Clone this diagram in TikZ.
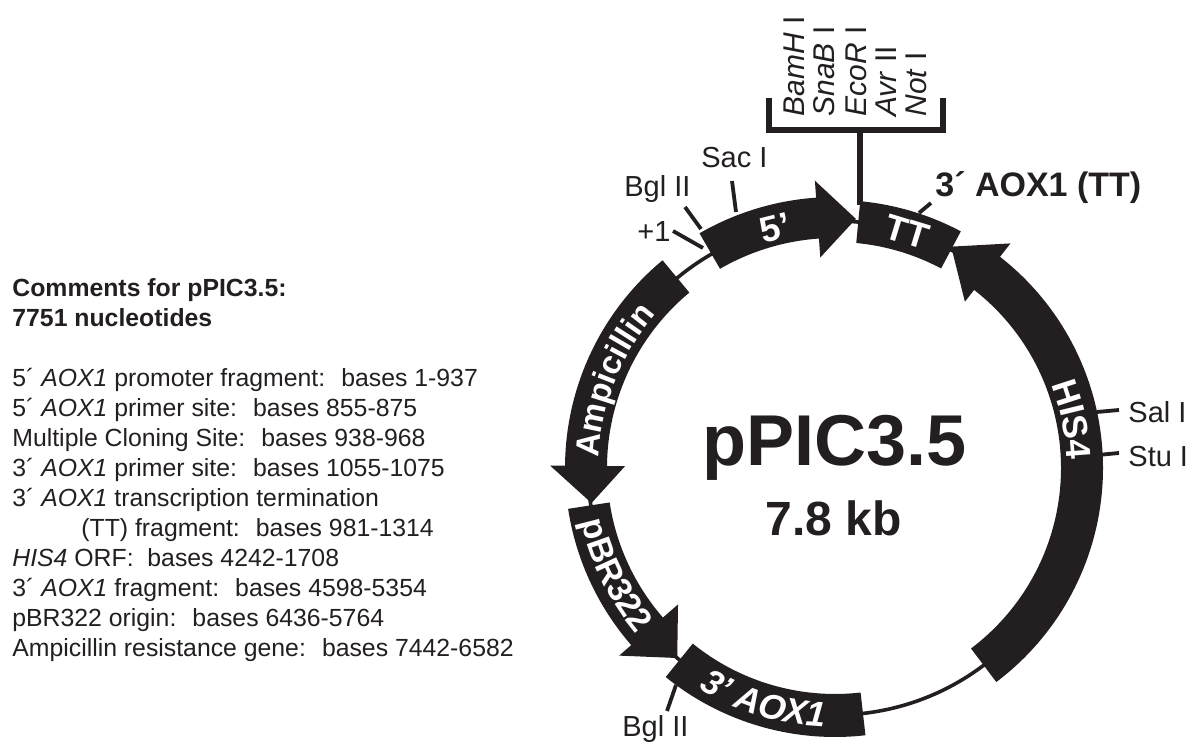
\documentclass[tikz,border=0pt]{standalone}
\usepackage{fontspec}
\usepackage{xcolor}
\usepackage{tikz}
\usetikzlibrary{decorations.text}
\setmainfont{Liberation Sans}
\definecolor{inkdark}{HTML}{231F20}
\newcommand{\pxfont}[1]{\fontsize{#1}{#1}\selectfont}
\tikzset{
  site/.style={line width=1.9pt, draw=inkdark},
  sitelabel/.style={anchor=base west, inner sep=0pt, text=inkdark, font=\pxfont{14.5}},
  mcslabel/.style={anchor=west, rotate=90, inner sep=0pt, text=inkdark, font=\pxfont{15}},
  bandtext/.style={decorate, decoration={text along path, text align=center, text color=white, text={#1}}},
  bandlabel/.style={inner sep=0pt, text=white, font=\pxfont{18}\bfseries}
}

\begin{document}
\begin{tikzpicture}[x=0.5pt, y=0.5pt]
  \useasboundingbox (0,0) rectangle (1190,743);
  % comments on the left
  \node[anchor=north west, inner sep=0pt, align=left, text=inkdark, font=\fontsize{12.4}{15}\selectfont] (comments) at (12,465) {%
    \textbf{Comments for pPIC3.5:}\\
    \textbf{7751 nucleotides}\\[15pt]
    5\textasciiacute{} \textit{AOX1} promoter fragment:~ bases 1-937\\
    5\textasciiacute{} \textit{AOX1} primer site:~ bases 855-875\\
    Multiple Cloning Site:~ bases 938-968\\
    3\textasciiacute{} \textit{AOX1} primer site:~ bases 1055-1075\\
    3\textasciiacute{} \textit{AOX1} transcription termination\\
    \hspace*{34.5pt}(TT) fragment:~ bases 981-1314\\
    \textit{HIS4} ORF:~ bases 4242-1708\\
    3\textasciiacute{} \textit{AOX1} fragment:~ bases 4598-5354\\
    pBR322 origin:~ bases 6436-5764\\
    Ampicillin resistance gene:~ bases 7442-6582};
  % multiple cloning site
  \draw[line width=2.9pt, draw=inkdark] (769,645) -- (769,613) -- (943,613) -- (943,645);
  \draw[line width=2.9pt, draw=inkdark] (860,613) -- (860,538);
  \node[mcslabel] (bamh) at (794,626) {\textit{BamH} I};
  \node[mcslabel] (snab) at (824,626) {\textit{SnaB} I};
  \node[mcslabel] (ecor) at (856,626) {\textit{EcoR} I};
  \node[mcslabel] (avr) at (886,626) {\textit{Avr} II};
  \node[mcslabel] (not) at (916.5,626) {\textit{Not} I};
  % restriction sites
  \draw[site] (732,562) -- (736,531);
  \node[sitelabel] (sac) at (701,575) {Sac I};
  \draw[site] (685,536) -- (701,514);
  \node[sitelabel] (bgltop) at (624,546) {Bgl II};
  \draw[site] (673,512) -- (703,495);
  \node[sitelabel] (plusone) at (637,501) {+1};
  \draw[site] (931,540) -- (919,530);
  \node[sitelabel, font=\pxfont{17}\bfseries] (ttname) at (935,546) {3\textasciiacute{} AOX1 (TT)};
  \draw[site] (1097,331) -- (1119,333);
  \node[sitelabel] (sal) at (1128,320) {Sal I};
  \draw[site] (1098,288) -- (1119,290);
  \node[sitelabel] (stu) at (1128,276) {Stu I};
  \draw[site] (676,58) -- (667,32);
  \node[sitelabel] (bglbottom) at (622,6) {Bgl II};
  % plasmid ring
  \begin{scope}[shift={(835,275)}]
    \draw[line width=1.8pt, draw=inkdark] (0,0) circle[radius=247];
    % 5' promoter
    \fill[inkdark] (120:271) arc[start angle=120, end angle=94, radius=271] -- (94:288)
      -- (85.2:250) -- (94:211) -- (94:230) arc[start angle=94, end angle=120, radius=230] -- cycle;
    % TT
    \fill[inkdark] (84.6:268) arc[start angle=84.6, end angle=62, radius=268]
      -- (62:226) arc[start angle=62, end angle=84.6, radius=226] -- cycle;
    % HIS4
    \fill[inkdark] (-53:268) arc[start angle=-53, end angle=52, radius=268] -- (52:285)
      -- (62.3:250) -- (52:211) -- (52:226) arc[start angle=52, end angle=-53, radius=226] -- cycle;
    % Ampicillin
    \fill[inkdark] (129.7:270) arc[start angle=129.7, end angle=179.5, radius=270] -- (179.5:285)
      -- (188.2:246) -- (179.5:210) -- (179.5:228) arc[start angle=179.5, end angle=129.7, radius=228] -- cycle;
    % pBR322
    \fill[inkdark] (188.7:270) arc[start angle=188.7, end angle=221, radius=270] -- (221:286)
      -- (230.3:247) -- (221:208) -- (221:228) arc[start angle=221, end angle=188.7, radius=228] -- cycle;
    % 3' AOX1
    \fill[inkdark] (231:269) arc[start angle=231, end angle=276.5, radius=269]
      -- (276.5:226) arc[start angle=276.5, end angle=231, radius=226] -- cycle;
    % curved labels
    \path[bandtext={|\pxfont{16.5}\bfseries|Ampicillin}] (180:236) arc[start angle=180, end angle=136.8, radius=236];
    \path[bandtext={|\pxfont{17}\bfseries|pBR322}] (188:259) arc[start angle=188, end angle=224, radius=259];
    \path[bandtext={|\pxfont{17.5}\bfseries\itshape|3' AOX1}] (233:259) arc[start angle=233, end angle=273, radius=259];
    \path[bandtext={|\pxfont{17.5}\bfseries|HIS4}] (28:232) arc[start angle=28, end angle=-5, radius=232];
    \node[bandlabel, rotate=14] (fiveprime) at (104:247) {5'};
    \node[bandlabel, rotate=-17] (tt) at (73:247) {TT};
  \end{scope}
  % name in the middle
  \node[anchor=base, inner sep=0pt, text=inkdark, font=\pxfont{36}\bfseries] (name) at (834.5,277) {pPIC3.5};
  \node[anchor=base, inner sep=0pt, text=inkdark, font=\pxfont{24}\bfseries] (size) at (833.5,207) {7.8 kb};
\end{tikzpicture}
\end{document}
